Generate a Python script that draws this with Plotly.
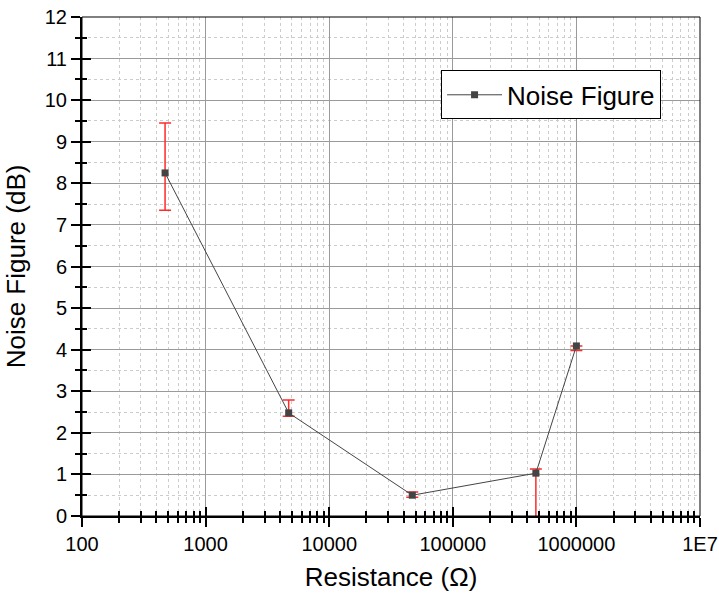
import plotly.graph_objects as go

resistance = [470, 4700, 47000, 470000, 1000000]
noise_figure = [8.25, 2.48, 0.50, 1.03, 4.09]
err_plus = [1.20, 0.31, 0.08, 0.10, 0.0]
err_minus = [0.90, 0.08, 0.05, 1.60, 0.11]

x_major = [100, 1000, 10000, 100000, 1000000, 10000000]
x_labels = ["100", "1000", "10000", "100000", "1000000", "1E7"]
x_minor = [m * 10 ** d for d in range(2, 7) for m in range(2, 10)]
y_major = list(range(0, 13))
y_minor = [v + 0.5 for v in range(0, 12)]

FONT = "Liberation Sans, Arial, sans-serif"

fig = go.Figure()
fig.add_trace(go.Scatter(
    x=resistance, y=noise_figure, mode="lines+markers", name="Noise Figure",
    line=dict(color="#444444", width=1),
    marker=dict(symbol="square", size=7, color="#444444"),
    error_y=dict(type="data", symmetric=False, array=err_plus, arrayminus=err_minus,
                 color="#ff2a2a", thickness=1.5, width=6),
    cliponaxis=True,
))
# overlay axes for inward tick halves
fig.add_trace(go.Scatter(x=[], y=[], xaxis="x2", yaxis="y2", showlegend=False))

common_ax = dict(showline=True, linecolor="black", linewidth=2, ticks="outside",
                 tickcolor="black", tickwidth=2, ticklen=9, zeroline=False, automargin=False,
                 tickfont=dict(family=FONT, size=20, color="black"))

fig.update_layout(
    width=719, height=597,
    margin=dict(l=82, r=19, t=17, b=81),
    paper_bgcolor="white", plot_bgcolor="white",
    font=dict(family=FONT, color="black"),
    showlegend=True,
    xaxis=dict(type="log", range=[2, 7], tickmode="array", tickvals=x_major, ticktext=x_labels,
               showgrid=True, gridcolor="#9a9a9a", gridwidth=1,
               minor=dict(tickmode="array", tickvals=x_minor, ticks="outside", ticklen=5,
                          tickwidth=2, tickcolor="black", showgrid=True, gridcolor="#cccccc",
                          griddash="dot", gridwidth=1),
               title=dict(text="Resistance (Ω)", font=dict(family=FONT, size=26), standoff=14),
               **common_ax),
    yaxis=dict(range=[0, 12], tickmode="array", tickvals=y_major,
               showgrid=True, gridcolor="#9a9a9a", gridwidth=1,
               minor=dict(tickmode="array", tickvals=y_minor, ticks="outside", ticklen=5,
                          tickwidth=2, tickcolor="black", showgrid=True, gridcolor="#cccccc",
                          griddash="dot", gridwidth=1),
               title=dict(text="Noise Figure (dB)", font=dict(family=FONT, size=26), standoff=12),
               **common_ax),
    xaxis2=dict(type="log", range=[2, 7], overlaying="x", anchor="y2", side="bottom",
                tickmode="array", tickvals=x_major, ticks="inside", ticklen=9, tickwidth=2,
                tickcolor="black", showticklabels=False, showgrid=False, showline=False,
                zeroline=False,
                minor=dict(tickmode="array", tickvals=x_minor, ticks="inside", ticklen=5,
                           tickwidth=2, tickcolor="black", showgrid=False)),
    yaxis2=dict(range=[0, 12], overlaying="y", anchor="x2", side="left",
                tickmode="array", tickvals=y_major, ticks="inside", ticklen=9, tickwidth=2,
                tickcolor="black", showticklabels=False, showgrid=False, showline=False,
                zeroline=False,
                minor=dict(tickmode="array", tickvals=y_minor, ticks="inside", ticklen=5,
                           tickwidth=2, tickcolor="black", showgrid=False)),
    legend=dict(x=0.581, y=0.893, xanchor="left", yanchor="top", itemwidth=55,
                bordercolor="black", borderwidth=1, bgcolor="white",
                font=dict(family=FONT, size=26, color="black")),
    shapes=[dict(type="rect", xref="x domain", yref="y domain", x0=0, x1=1, y0=0, y1=1,
                 line=dict(color="black", width=1), layer="above")],
)

fig.write_html("out.html")
